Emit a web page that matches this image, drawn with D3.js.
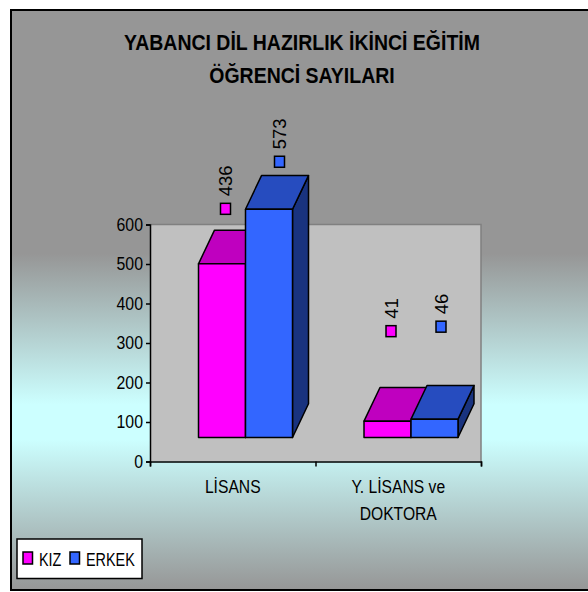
<!DOCTYPE html>
<html>
<head>
<meta charset="utf-8">
<script src="https://cdn.jsdelivr.net/npm/d3@7"></script>
<style>
  html, body { margin: 0; padding: 0; background: #fff; }
  svg { display: block; }
  text { font-family: "Liberation Sans", Arial, sans-serif; fill: #000; }
</style>
</head>
<body>
<svg id="svg" width="588" height="592"></svg>
<script>
var categories = [["LİSANS"], ["Y. LİSANS ve", "DOKTORA"]];
var seriesNames = ["KIZ", "ERKEK"];
var kiz = [436, 41];
var erkek = [573, 46];
var yTicks = [0, 100, 200, 300, 400, 500, 600];
var titleLines = ["YABANCI DİL HAZIRLIK İKİNCİ EĞİTİM", "ÖĞRENCİ SAYILARI"];

var svg = d3.select("#svg");
var plot = { left: 150, right: 481, top: 224.5, bottom: 461.5 };
var depth = { x: 16, y: 33.7 };
var barFloor = 437.5;
var colors = [
  { front: "#ff00ff", top: "#bf00bf", side: "#7f007f" },
  { front: "#3366ff", top: "#264cbf", side: "#19337f" }
];

// the reference text is tall and narrow, so squeeze the glyphs sideways
function squeeze(sel, k) {
  sel.each(function () {
    var w = this.getComputedTextLength();
    d3.select(this)
      .attr("textLength", w * k)
      .attr("lengthAdjust", "spacingAndGlyphs");
  });
}

// background gradient, grey -> cyan -> grey
var defs = svg.append("defs");
var grad = defs.append("linearGradient")
  .attr("id", "bg")
  .attr("x1", 0).attr("x2", 0).attr("y1", 0).attr("y2", 1);
[[0, "#969696"], [0.42, "#969696"], [0.68, "#ccffff"], [0.74, "#ccffff"], [1, "#969696"]].forEach(function (s) {
  grad.append("stop").attr("offset", s[0]).attr("stop-color", s[1]);
});

svg.append("rect")
  .attr("x", 11).attr("y", 10)
  .attr("width", 590).attr("height", 580)
  .attr("fill", "url(#bg)")
  .attr("stroke", "#000")
  .attr("stroke-width", 2);

// title
svg.selectAll(".title")
  .data(titleLines)
  .enter()
  .append("text")
  .attr("class", "title")
  .attr("x", 302)
  .attr("y", (d, i) => 50 + i * 32.5)
  .attr("text-anchor", "middle")
  .attr("font-size", 22)
  .attr("font-weight", "bold")
  .text(d => d)
  .call(squeeze, 0.885);

// scales
var yScale = d3.scaleLinear().domain([0, 600]).range([plot.bottom, plot.top]);
var barY = d3.scaleLinear().domain([0, 600]).range([barFloor, barFloor - 239]);
var xScale = d3.scaleBand().domain(d3.range(categories.length)).range([plot.left, plot.right]);
var xInner = d3.scaleBand().domain(d3.range(seriesNames.length)).range([48.5, 142.5]);

// plot wall
svg.append("rect")
  .attr("x", plot.left).attr("y", plot.top)
  .attr("width", plot.right - plot.left).attr("height", plot.bottom - plot.top)
  .attr("fill", "#c0c0c0");
svg.append("path")
  .attr("d", d3.line()([[plot.left, plot.top], [plot.right, plot.top], [plot.right, plot.bottom]]))
  .attr("fill", "none")
  .attr("stroke", "#808080")
  .attr("stroke-width", 1.5);

// y axis
var yAxis = svg.append("g")
  .attr("transform", "translate(" + plot.left + ",0)")
  .call(d3.axisLeft(yScale).tickValues(yTicks).tickSize(4).tickPadding(3).tickFormat(d3.format("d")));
yAxis.selectAll("text")
  .attr("font-size", 18)
  .style("font-family", "Liberation Sans")
  .call(squeeze, 0.88);
yAxis.selectAll("line").attr("stroke", "#000").attr("stroke-width", 1.5);
yAxis.select(".domain").attr("stroke", "#000").attr("stroke-width", 1.5);

// x axis, ticks sit on the band edges
var xEdges = d3.scaleLinear().domain([0, categories.length]).range([plot.left, plot.right]);
var xAxis = svg.append("g")
  .attr("transform", "translate(0," + plot.bottom + ")")
  .call(d3.axisBottom(xEdges).tickValues(d3.range(categories.length + 1)).tickSize(5).tickFormat(""));
xAxis.selectAll("line").attr("stroke", "#000").attr("stroke-width", 1.5);
xAxis.select(".domain").attr("stroke", "#000").attr("stroke-width", 1.5);

// category labels
categories.forEach(function (lines, c) {
  svg.selectAll(".cat" + c)
    .data(lines)
    .enter()
    .append("text")
    .attr("class", "cat" + c)
    .attr("x", xScale(c) + xScale.bandwidth() / 2)
    .attr("y", (d, i) => 492.5 + i * 27.5)
    .attr("text-anchor", "middle")
    .attr("font-size", 18)
    .text(d => d)
    .call(squeeze, 0.87);
});

// bars as three faces
var bars = [];
[kiz, erkek].forEach(function (vals, s) {
  vals.forEach(function (v, c) {
    bars.push({ c: c, s: s, v: v });
  });
});

function face(points) {
  return d3.line()(points) + "Z";
}

var barG = svg.selectAll(".bar")
  .data(bars)
  .enter()
  .append("g")
  .attr("class", "bar")
  .attr("stroke", "#000")
  .attr("stroke-width", 1.5)
  .attr("stroke-linejoin", "round");

function corners(d) {
  var x0 = xScale(d.c) + xInner(d.s);
  return { x0: x0, x1: x0 + xInner.bandwidth(), yt: barY(d.v), yb: barY(0) };
}

barG.append("path")
  .attr("fill", d => colors[d.s].side)
  .attr("d", function (d) {
    var b = corners(d);
    return face([[b.x1, b.yt], [b.x1 + depth.x, b.yt - depth.y], [b.x1 + depth.x, b.yb - depth.y], [b.x1, b.yb]]);
  });
barG.append("path")
  .attr("fill", d => colors[d.s].top)
  .attr("d", function (d) {
    var b = corners(d);
    return face([[b.x0, b.yt], [b.x1, b.yt], [b.x1 + depth.x, b.yt - depth.y], [b.x0 + depth.x, b.yt - depth.y]]);
  });
barG.append("rect")
  .attr("fill", d => colors[d.s].front)
  .attr("x", d => corners(d).x0)
  .attr("y", d => corners(d).yt)
  .attr("width", xInner.bandwidth())
  .attr("height", d => corners(d).yb - corners(d).yt);

// data labels float above the bars with a key marker, offsets per bar
var labelShift = [
  [{ dx: 3.5, lift: 55 }, { dx: 3.5, lift: 90 }],
  [{ dx: 10.5, lift: 47.5 }, { dx: 6.5, lift: 92.5 }]
];

var labelG = svg.selectAll(".datalabel")
  .data(bars)
  .enter()
  .append("g")
  .attr("class", "datalabel")
  .attr("transform", function (d) {
    var b = corners(d);
    var o = labelShift[d.s][d.c];
    return "translate(" + ((b.x0 + b.x1) / 2 + o.dx) + "," + (b.yt - o.lift) + ")";
  });

labelG.append("rect")
  .attr("x", -5).attr("y", -5.5)
  .attr("width", 10).attr("height", 11)
  .attr("fill", d => colors[d.s].front)
  .attr("stroke", "#000")
  .attr("stroke-width", 1.5);

labelG.append("text")
  .attr("transform", "translate(6.5,-12.5) rotate(-90)")
  .attr("font-size", 18.5)
  .text(d => d.v);

// legend
var legend = svg.append("g");
legend.append("rect")
  .attr("x", 17).attr("y", 539)
  .attr("width", 125).attr("height", 39.5)
  .attr("fill", "#fff")
  .attr("stroke", "#000")
  .attr("stroke-width", 1.5);

var legendX = d3.scaleOrdinal().domain(seriesNames).range([23, 70]);
var legendItem = legend.selectAll(".key")
  .data(seriesNames)
  .enter()
  .append("g")
  .attr("class", "key")
  .attr("transform", d => "translate(" + legendX(d) + ",552)");

legendItem.append("rect")
  .attr("width", 9.5).attr("height", 12)
  .attr("fill", (d, i) => colors[i].front)
  .attr("stroke", "#000")
  .attr("stroke-width", 1.5);

legendItem.append("text")
  .attr("x", 16)
  .attr("y", 13.5)
  .attr("font-size", 18)
  .text(d => d)
  .call(squeeze, 0.8);
</script>
</body>
</html>
